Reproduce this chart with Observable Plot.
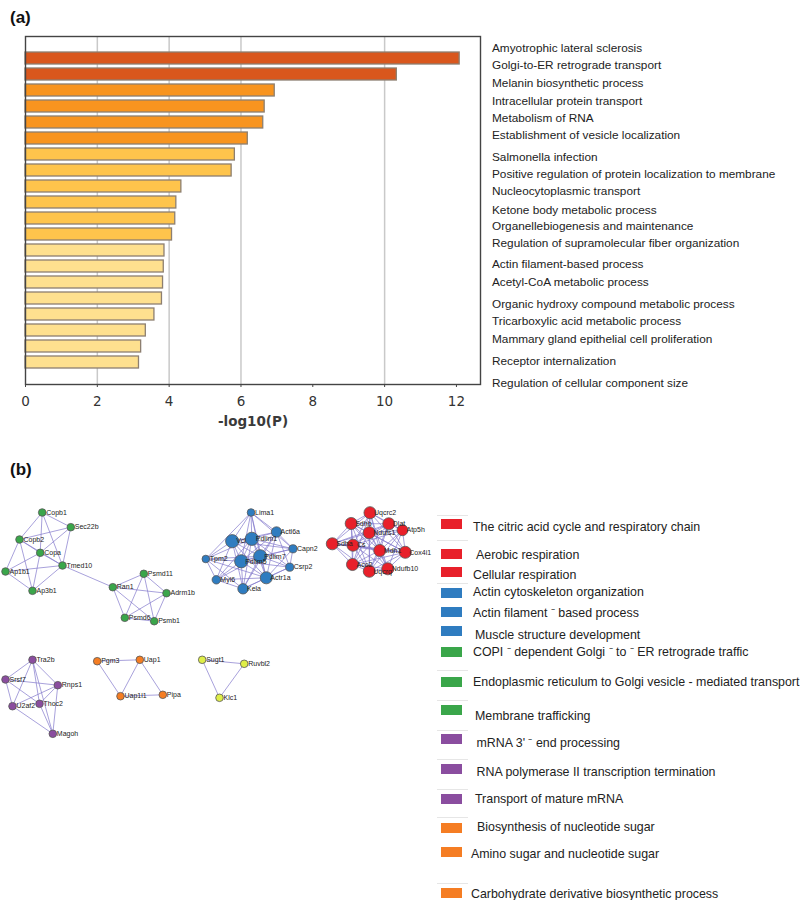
<!DOCTYPE html>
<html><head><meta charset="utf-8">
<script src="https://cdn.jsdelivr.net/npm/d3@7"></script>
<script src="https://cdn.jsdelivr.net/npm/@observablehq/plot@0.6"></script>
<style>
body{margin:0;background:#fff;font-family:"Liberation Sans",Arial,sans-serif;}
#page{position:relative;width:800px;height:900px;overflow:hidden;background:#fff;}
.panel{position:absolute;left:10px;font-weight:bold;font-size:17px;color:#111;line-height:20px;}
.term{position:absolute;left:492px;font-size:11.8px;color:#222;white-space:nowrap;line-height:14px;}
.sw{position:absolute;left:441px;width:21px;height:10px;}
.lg{position:absolute;font-size:12.4px;color:#222;white-space:nowrap;line-height:15px;}
.sep{position:absolute;left:437px;width:31px;height:1px;background:#e6e6e6;}
#plotA,#plotB{position:absolute;left:0;}
svg{overflow:visible;}
</style></head>
<body><div id="page">
<div class="panel" style="top:8px">(a)</div>
<div class="panel" style="top:460px">(b)</div>
<div id="plotA" style="top:0"></div>
<div id="plotB" style="top:495px"></div>
</div>
<script>
// ---------- Panel (a) data ----------
const barValues = [12.09,10.34,6.94,6.66,6.62,6.19,5.83,5.74,4.34,4.20,4.17,4.08,3.87,3.85,3.83,3.80,3.59,3.35,3.22,3.16];
const termLabels = [
  "Amyotrophic lateral sclerosis",
  "Golgi-to-ER retrograde transport",
  "Melanin biosynthetic process",
  "Intracellular protein transport",
  "Metabolism of RNA",
  "Establishment of vesicle localization",
  "Salmonella infection",
  "Positive regulation of protein localization to membrane",
  "Nucleocytoplasmic transport",
  "Ketone body metabolic process",
  "Organellebiogenesis and maintenance",
  "Regulation of supramolecular fiber organization",
  "Actin filament-based process",
  "Acetyl-CoA metabolic process",
  "Organic hydroxy compound metabolic process",
  "Tricarboxylic acid metabolic process",
  "Mammary gland epithelial cell proliferation",
  "Receptor internalization",
  "Regulation of cellular component size"
];
const xTicks = [0,2,4,6,8,10,12];
const gridTicks = [2,4,6,10];
const colorBreaks = [4,6,10];
const barColors = ["#fee08f","#fec44c","#f8941f","#d9571d"];
const axisLabel = "-log10(P)";

// ---------- Panel (b) data ----------
const groups = ["TCA","Actin","COPI","mRNA","Sugar","Other"];
const groupColors = ["#e8202a","#2f7cc0","#3aa64a","#8a4d9f","#f57d23","#dfee48"];
const networkNodes = [
  {id:"Copb1",group:"COPI",x:41.7,y:512,size:1},
  {id:"Sec22b",group:"COPI",x:70.3,y:526.7,size:1},
  {id:"Copb2",group:"COPI",x:19,y:539,size:1},
  {id:"Copa",group:"COPI",x:39.7,y:552.3,size:1},
  {id:"Tmed10",group:"COPI",x:62,y:565,size:1},
  {id:"Ap1b1",group:"COPI",x:5,y:571,size:1},
  {id:"Ap3b1",group:"COPI",x:32,y:590.3,size:1},
  {id:"Ran1",group:"COPI",x:112.3,y:586.7,size:1},
  {id:"Psmd11",group:"COPI",x:143.3,y:573.3,size:1},
  {id:"Adrm1b",group:"COPI",x:166,y:592.7,size:1},
  {id:"Psmd6",group:"COPI",x:124.3,y:617.3,size:1},
  {id:"Psmb1",group:"COPI",x:153.7,y:620.7,size:1},
  {id:"Lima1",group:"Actin",x:250.5,y:512,size:1},
  {id:"Actl6a",group:"Actin",x:276,y:531.5,size:2},
  {id:"Vcl",group:"Actin",x:231.7,y:540.7,size:3},
  {id:"Pdlim1",group:"Actin",x:251.3,y:538.3,size:3},
  {id:"Capn2",group:"Actin",x:292.5,y:548.3,size:1.2},
  {id:"Tpm2",group:"Actin",x:205.3,y:558.5,size:1},
  {id:"Pdlim7",group:"Actin",x:259.7,y:555.8,size:3},
  {id:"Pdlim5",group:"Actin",x:240.7,y:560.8,size:3},
  {id:"Csrp2",group:"Actin",x:289.2,y:566.7,size:1.2},
  {id:"Myl6",group:"Actin",x:215.8,y:579.3,size:1.3},
  {id:"Actr1a",group:"Actin",x:265.8,y:577.3,size:2.6},
  {id:"Kela",group:"Actin",x:242.5,y:588.3,size:2},
  {id:"Uqcrc2",group:"TCA",x:369.5,y:512.2,size:2.6},
  {id:"Sdhb",group:"TCA",x:350.7,y:523,size:2.6},
  {id:"Dlat",group:"TCA",x:388.3,y:523.3,size:2.6},
  {id:"Atp5h",group:"TCA",x:402,y:529.7,size:2.2},
  {id:"Ndufs1",group:"TCA",x:368.7,y:532.2,size:2.6},
  {id:"Sdha",group:"TCA",x:331.8,y:543.3,size:2.6},
  {id:"Cs",group:"TCA",x:352.5,y:544.7,size:2.6},
  {id:"Mdh1",group:"TCA",x:379.3,y:550,size:2.6},
  {id:"Cox4i1",group:"TCA",x:404.8,y:551.8,size:2.6},
  {id:"Aco2",group:"TCA",x:352,y:564,size:2.6},
  {id:"Uqcrq",group:"TCA",x:368.8,y:570.8,size:2.6},
  {id:"Ndufb10",group:"TCA",x:387.3,y:568.3,size:2.6},
  {id:"Tra2b",group:"mRNA",x:32,y:659.3,size:1},
  {id:"Srsf7",group:"mRNA",x:5,y:679,size:1},
  {id:"Rnps1",group:"mRNA",x:57.3,y:684.7,size:1},
  {id:"U2af2",group:"mRNA",x:12,y:705.7,size:1},
  {id:"Thoc2",group:"mRNA",x:39,y:703.3,size:1},
  {id:"Magoh",group:"mRNA",x:52.3,y:733.3,size:1},
  {id:"Pgm3",group:"Sugar",x:96.7,y:660.7,size:1},
  {id:"Uap1",group:"Sugar",x:139.3,y:659.3,size:1},
  {id:"Uap1l1",group:"Sugar",x:120,y:695.7,size:1},
  {id:"Pipa",group:"Sugar",x:162.3,y:694.3,size:1},
  {id:"Sugt1",group:"Other",x:201.7,y:659.3,size:1},
  {id:"Ruvbl2",group:"Other",x:243.7,y:663.3,size:1},
  {id:"Klc1",group:"Other",x:219,y:697.3,size:1}
];
const adjacency = {
  Copb1:"Sec22b Copb2 Copa Tmed10",
  Sec22b:"Copb2 Copa Tmed10",
  Copb2:"Copa Tmed10 Ap1b1 Ap3b1",
  Copa:"Tmed10 Ap1b1 Ap3b1",
  Tmed10:"Ap1b1 Ap3b1 Ran1",
  Ap1b1:"Ap3b1",
  Ran1:"Psmd11 Adrm1b Psmd6 Psmb1",
  Psmd11:"Adrm1b Psmd6 Psmb1",
  Adrm1b:"Psmd6 Psmb1",
  Psmd6:"Psmb1",
  Lima1:"Vcl Pdlim1 Actl6a Pdlim7 Pdlim5 Tpm2 Actr1a Capn2",
  Actl6a:"Vcl Pdlim1 Capn2 Pdlim7 Pdlim5 Csrp2 Actr1a Kela",
  Vcl:"Pdlim1 Tpm2 Pdlim7 Pdlim5 Myl6 Actr1a Kela Capn2",
  Pdlim1:"Capn2 Tpm2 Pdlim7 Pdlim5 Csrp2 Myl6 Actr1a Kela",
  Capn2:"Pdlim7 Pdlim5 Csrp2 Actr1a",
  Tpm2:"Pdlim7 Pdlim5 Myl6 Actr1a Kela",
  Pdlim7:"Pdlim5 Csrp2 Myl6 Actr1a Kela",
  Pdlim5:"Csrp2 Myl6 Actr1a Kela",
  Csrp2:"Actr1a Kela",
  Myl6:"Actr1a Kela",
  Actr1a:"Kela",
  Uqcrc2:"Sdhb Dlat Atp5h Ndufs1 Sdha Cs Mdh1 Cox4i1 Aco2 Uqcrq Ndufb10",
  Sdhb:"Dlat Ndufs1 Sdha Cs Mdh1 Cox4i1 Aco2 Uqcrq Ndufb10",
  Dlat:"Atp5h Ndufs1 Sdha Cs Mdh1 Cox4i1 Aco2 Uqcrq",
  Atp5h:"Ndufs1 Cs Mdh1 Cox4i1 Ndufb10 Uqcrq",
  Ndufs1:"Sdha Cs Mdh1 Cox4i1 Aco2 Uqcrq Ndufb10",
  Sdha:"Cs Mdh1 Cox4i1 Aco2 Uqcrq",
  Cs:"Mdh1 Cox4i1 Aco2 Uqcrq Ndufb10",
  Mdh1:"Cox4i1 Aco2 Uqcrq Ndufb10",
  Cox4i1:"Aco2 Uqcrq Ndufb10",
  Aco2:"Uqcrq Ndufb10",
  Uqcrq:"Ndufb10",
  Tra2b:"Srsf7 Rnps1 U2af2 Thoc2 Magoh",
  Srsf7:"Rnps1 Thoc2 U2af2",
  Rnps1:"U2af2 Thoc2 Magoh",
  U2af2:"Magoh",
  Thoc2:"Magoh",
  Pgm3:"Uap1 Uap1l1",
  Uap1:"Uap1l1 Pipa",
  Uap1l1:"Pipa",
  Sugt1:"Ruvbl2 Klc1",
  Ruvbl2:"Klc1"
};
const legendLabels = [
  "The citric acid cycle and respiratory chain",
  "Aerobic respiration",
  "Cellular respiration",
  "Actin cytoskeleton organization",
  "Actin filament \u207B based process",
  "Muscle structure development",
  "COPI \u207B dependent Golgi \u207B to \u207B ER retrograde traffic",
  "Endoplasmic reticulum to Golgi vesicle - mediated transport",
  "Membrane trafficking",
  "mRNA 3' \u207B end processing",
  "RNA polymerase II transcription termination",
  "Transport of mature mRNA",
  "Biosynthesis of nucleotide sugar",
  "Amino sugar and nucleotide sugar",
  "Carbohydrate derivative biosynthetic process"
];
const legendGroups = ["TCA","TCA","TCA","Actin","Actin","Actin","COPI","COPI","COPI","mRNA","mRNA","mRNA","Sugar","Sugar","Sugar"];

// ---------- Render panel (a) ----------
const bars = barValues.map((v, i) => ({rank: i, value: v}));
const plotA = Plot.plot({
  width: 490, height: 430,
  marginLeft: 25, marginRight: 10, marginTop: 36, marginBottom: 46,
  style: {fontFamily: "DejaVu Sans", fontSize: "13.5px", color: "#333", background: "transparent"},
  x: {domain: [0, 12.67]},
  y: {domain: d3.range(barValues.length), paddingInner: 0.22, paddingOuter: 0.54, axis: null},
  color: {type: "threshold", domain: colorBreaks, range: barColors},
  marks: [
    Plot.ruleX(gridTicks, {stroke: "#c9c9c9", strokeWidth: 1.5}),
    Plot.barX(bars, {x: "value", y: "rank", fill: "value", stroke: "#8d7f70", strokeWidth: 1.3}),
    Plot.frame({stroke: "#444", strokeWidth: 1.4}),
    Plot.axisX({ticks: xTicks, tickSize: 3, tickPadding: 9, label: null, fill: "#333", stroke: "#444"}),
    Plot.text([axisLabel], {frameAnchor: "bottom", dy: 37, fontWeight: "bold", fontSize: 13.5, fill: "#3a3a3a", lineAnchor: "middle"})
  ]
});
document.getElementById("plotA").appendChild(plotA);

const page = document.getElementById("page");
// label column layout (row centres in px)
const termRowCenters = [48.3,64.6,82.5,101,117.8,135,157.3,174,191.2,209.5,226.2,243.3,264.3,282,304,321,339.3,361.3,382.5];
termLabels.forEach((t, i) => {
  const d = document.createElement("div");
  d.className = "term";
  d.style.top = (termRowCenters[i] - 7) + "px";
  d.textContent = t;
  page.appendChild(d);
});

// ---------- Render panel (b) ----------
const byId = new Map(networkNodes.map(d => [d.id, d]));
const edges = [];
for (const [src, targets] of Object.entries(adjacency)) {
  for (const t of targets.split(" ")) edges.push({a: byId.get(src), b: byId.get(t)});
}
const plotB = Plot.plot({
  width: 430, height: 270,
  marginLeft: 0, marginRight: 0, marginTop: 0, marginBottom: 0,
  style: {fontFamily: "Liberation Sans", background: "transparent"},
  x: {domain: [0, 430], axis: null},
  y: {domain: [495, 765], reverse: true, axis: null},
  r: {type: "linear", domain: [1, 3], range: [3.8, 6.6]},
  color: {domain: groups, range: groupColors},
  marks: [
    Plot.link(edges, {x1: d => d.a.x, y1: d => d.a.y, x2: d => d.b.x, y2: d => d.b.y,
      stroke: "#8379cc", strokeOpacity: 0.7, strokeWidth: 1}),
    Plot.dot(networkNodes, {x: "x", y: "y", r: "size", fill: "group", stroke: "#555", strokeWidth: 0.8}),
    Plot.text(networkNodes, {x: "x", y: "y", text: "id", dx: 4, textAnchor: "start", fontSize: 7, fill: "#222"})
  ]
});
document.getElementById("plotB").appendChild(plotB);

// legend layout
const colorOf = new Map(groups.map((g, i) => [g, groupColors[i]]));
const swatchCenters = [524,554,571.7,593,612,630.7,651.7,681.7,710,739.3,769.3,798.7,828.3,852.3,893.3];
const textCenters = [527,555,575,592,613,635,652,682,716,743,772,799,827,854,894];
const textLefts = [473,476,473,473,473,475,473,473,475,476.5,476.5,475,477,471,471];
legendLabels.forEach((t, i) => {
  const s = document.createElement("div");
  s.className = "sw";
  s.style.top = (swatchCenters[i] - 5) + "px";
  s.style.background = colorOf.get(legendGroups[i]);
  page.appendChild(s);
  const d = document.createElement("div");
  d.className = "lg";
  d.style.top = (textCenters[i] - 7.5) + "px";
  d.style.left = textLefts[i] + "px";
  d.textContent = t;
  page.appendChild(d);
});
[515, 540, 583, 670, 700, 730, 759, 789, 817, 883].forEach(y => {
  const l = document.createElement("div");
  l.className = "sep";
  l.style.top = y + "px";
  page.appendChild(l);
});
</script>
</body></html>
